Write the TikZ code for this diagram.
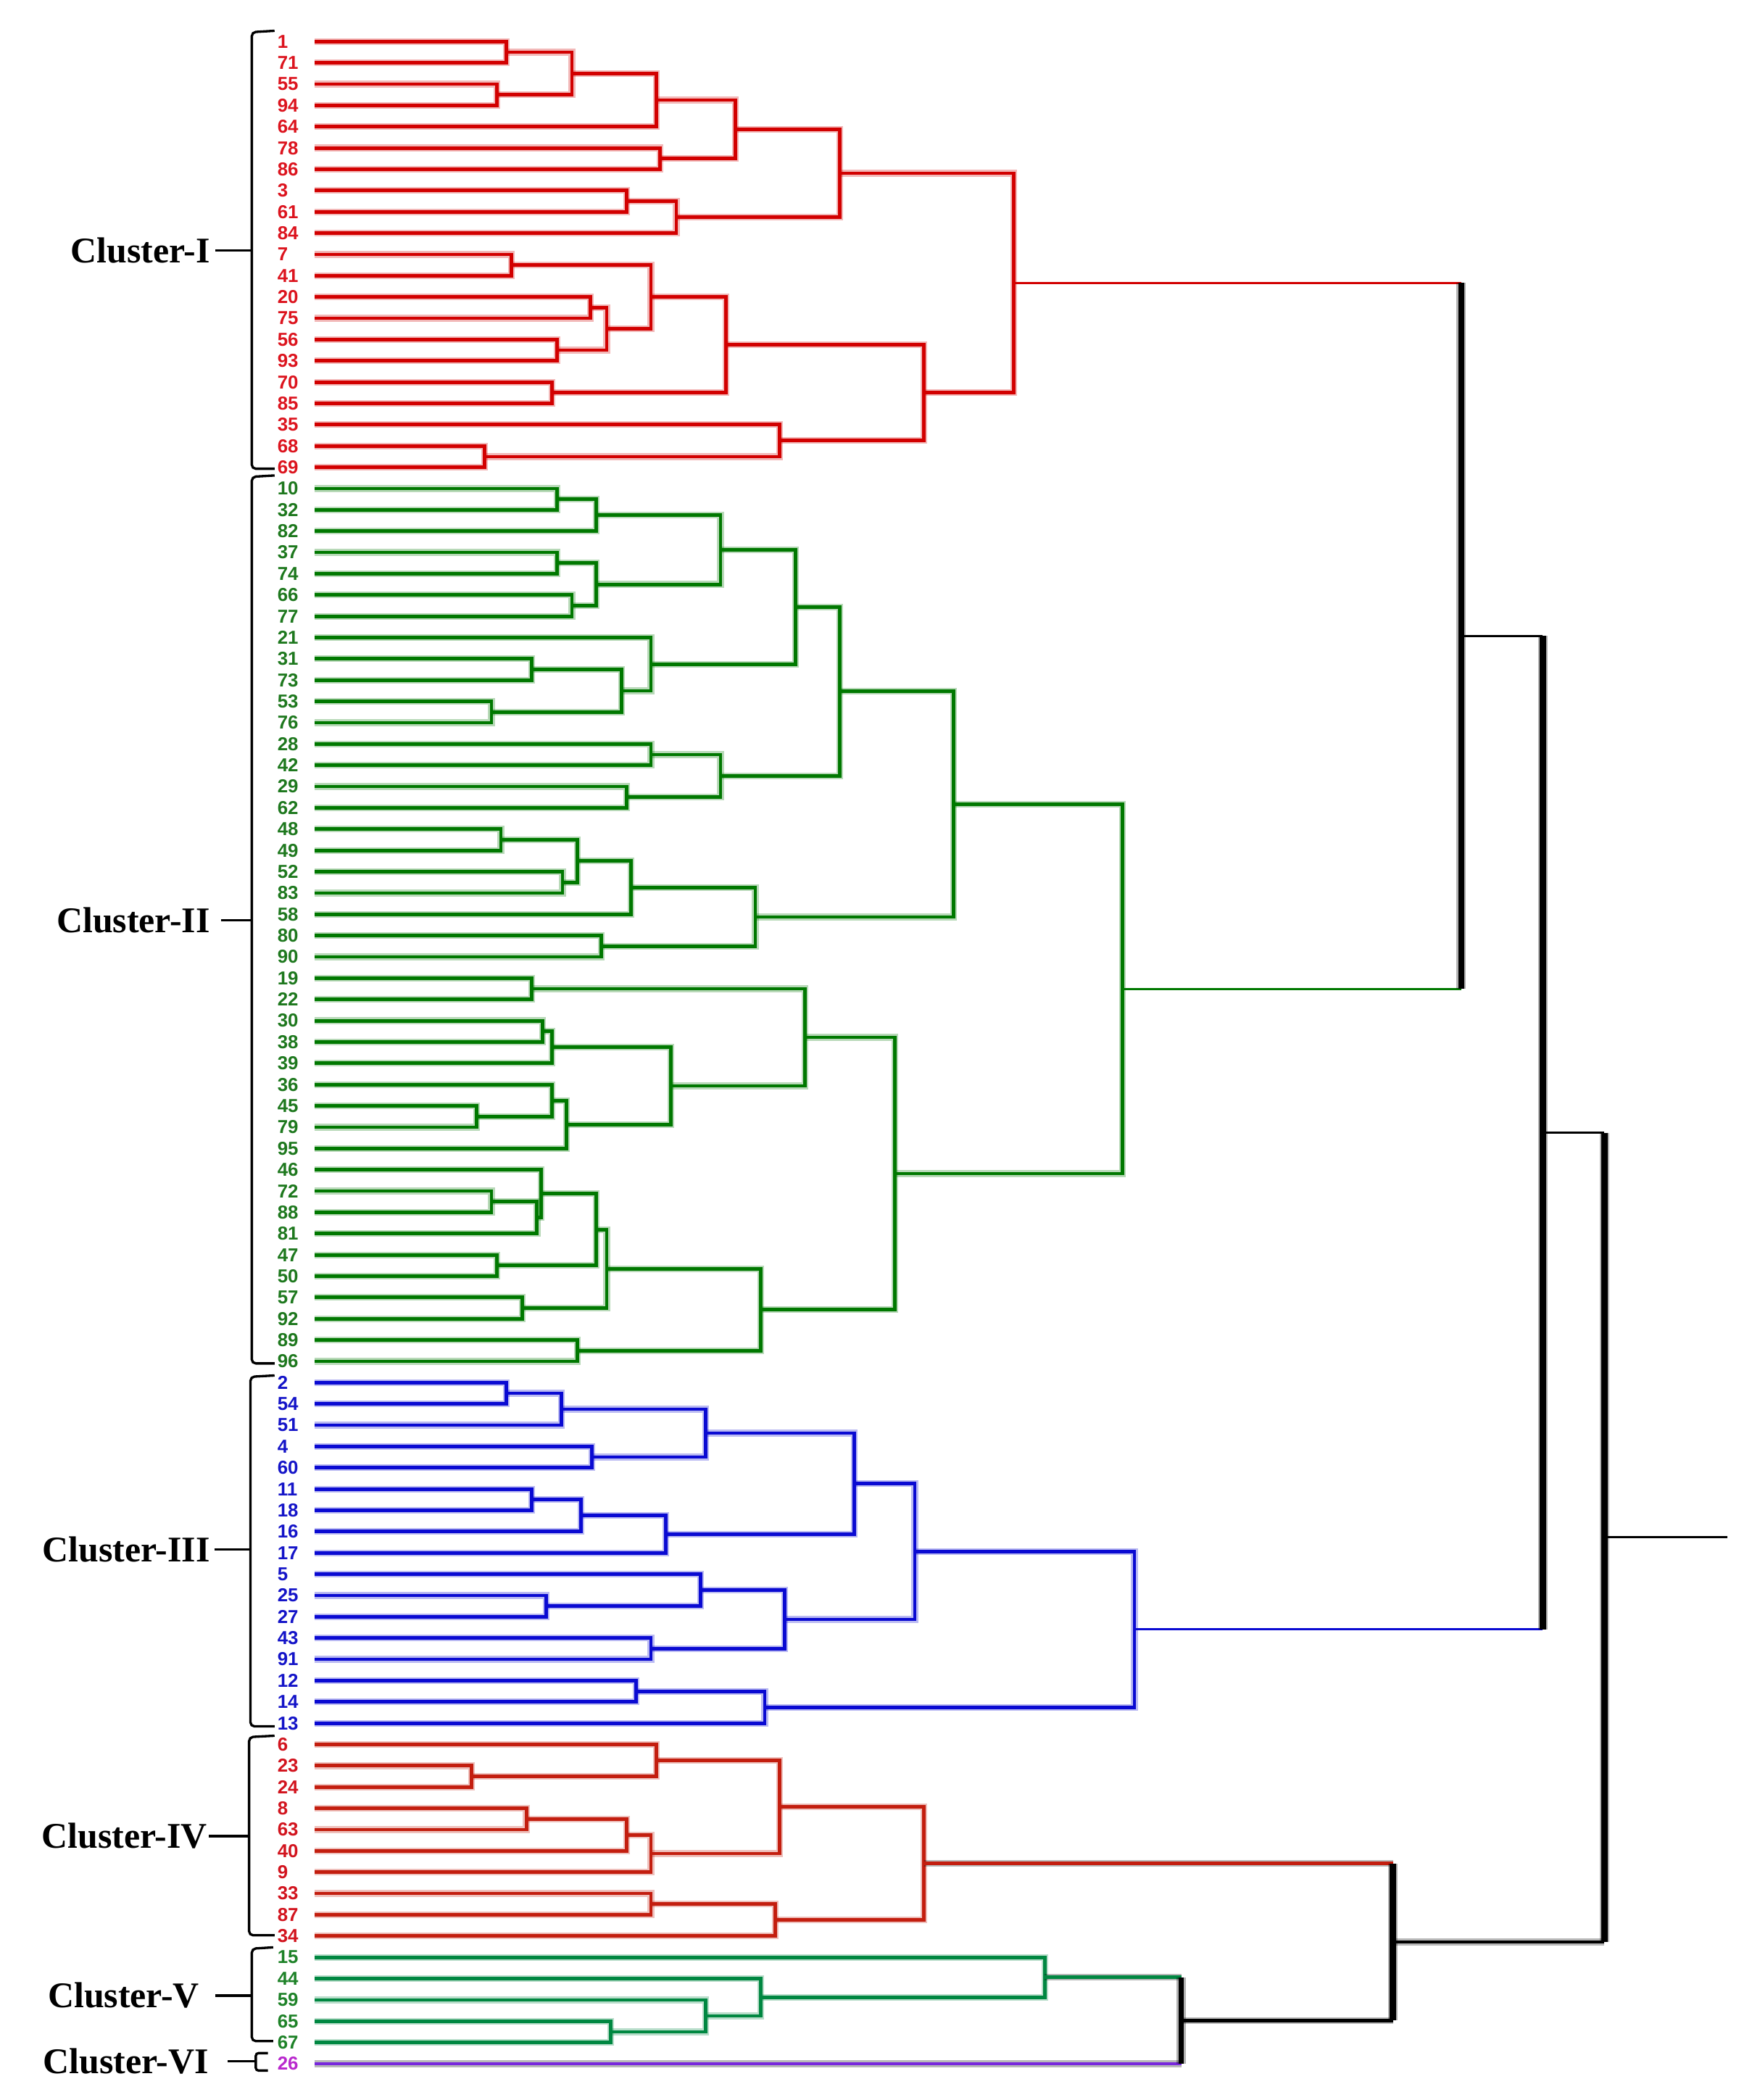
\documentclass[tikz,border=0pt]{standalone}
\usepackage{fontspec}
\setmainfont{Liberation Serif}
\newfontfamily\leaffont{Liberation Sans}
\usetikzlibrary{calc}
\definecolor{cIl}{RGB}{210,0,0}
\definecolor{cIt}{RGB}{220,20,30}
\definecolor{cIIl}{RGB}{0,120,0}
\definecolor{cIIt}{RGB}{30,120,30}
\definecolor{cIIIl}{RGB}{10,10,210}
\definecolor{cIIIt}{RGB}{20,20,200}
\definecolor{cIVl}{RGB}{195,30,15}
\definecolor{cIVt}{RGB}{210,20,30}
\definecolor{cVl}{RGB}{0,135,65}
\definecolor{cVt}{RGB}{30,130,40}
\definecolor{cVIl}{RGB}{120,40,220}
\definecolor{cVIt}{RGB}{185,40,205}
\tikzset{
  tree/.style={line width=2.6pt, preaction={draw, line width=5pt, opacity=0.28}},
  conn/.style={line width=1.7pt},
  blackv/.style={black, preaction={draw, line width=7pt, opacity=0.3}},
  brk/.style={line width=1.8pt, black, rounded corners=3pt},
  leaflab/.style={anchor=west, inner sep=0pt, font=\leaffont\bfseries\fontsize{14}{14}\selectfont},
  clab/.style={anchor=east, inner sep=0pt, font=\bfseries\fontsize{27}{27}\selectfont},
}
\newcommand\leafset[3]{%
  \foreach \lab [count=\k from #1] in {#3} {%
    \coordinate (L\lab) at (235,{31+15.894*\k});
    \node[leaflab,text=#2] (T\lab) at (207,{31+15.894*\k}) {\lab};
  }}
\newcommand\mrg[4]{%
  \path let \p1=(#3), \p2=(#4) in coordinate (#1) at (#2pt,{0.5*(\y1+\y2)});
  \draw[tree] (#3) -| (#1) |- (#4);}
\newcommand\topm[7]{%
  \path let \p1=(#3), \p2=(#5) in coordinate (#1) at (#2pt,{0.5*(\y1+\y2)});
  \draw[#4] (#3) -- (#3 -| #1);
  \draw[#6] (#5) -- (#5 -| #1);
  \draw[blackv,line width=#7] (#3 -| #1) -- (#5 -| #1);}
\begin{document}
\begin{tikzpicture}[x=1pt,y=-1pt]
\fill[white] (0,0) rectangle (1314,1568);
\useasboundingbox (0,0) rectangle (1314,1568);

% leaves
\leafset{0}{cIt}{1,71,55,94,64,78,86,3,61,84,7,41,20,75,56,93,70,85,35,68,69}
\leafset{21}{cIIt}{10,32,82,37,74,66,77,21,31,73,53,76,28,42,29,62,48,49,52,83,58,80,90,19,22,30,38,39,36,45,79,95,46,72,88,81,47,50,57,92,89,96}
\leafset{63}{cIIIt}{2,54,51,4,60,11,18,16,17,5,25,27,43,91,12,14,13}
\leafset{80}{cIVt}{6,23,24,8,63,40,9,33,87,34}
\leafset{90}{cVt}{15,44,59,65,67}
\leafset{95}{cVIt}{26}

% Cluster I
\begin{scope}[color=cIl]
\mrg{a1}{378}{L1}{L71}
\mrg{a2}{371}{L55}{L94}
\mrg{a3}{427}{a1}{a2}
\mrg{a4}{490}{a3}{L64}
\mrg{a5}{493}{L78}{L86}
\mrg{a6}{549}{a4}{a5}
\mrg{a7}{468}{L3}{L61}
\mrg{a8}{505}{a7}{L84}
\mrg{a9}{627}{a6}{a8}
\mrg{a10}{382}{L7}{L41}
\mrg{a11}{441}{L20}{L75}
\mrg{a12}{416}{L56}{L93}
\mrg{a13}{453}{a11}{a12}
\mrg{a14}{486}{a10}{a13}
\mrg{a15}{412}{L70}{L85}
\mrg{a16}{542}{a14}{a15}
\mrg{a17}{362}{L68}{L69}
\mrg{a18}{582}{L35}{a17}
\mrg{a19}{690}{a16}{a18}
\mrg{CI}{757}{a9}{a19}
\end{scope}

% Cluster II
\begin{scope}[color=cIIl]
\mrg{b1}{416}{L10}{L32}
\mrg{b2}{445}{b1}{L82}
\mrg{b3}{416}{L37}{L74}
\mrg{b4}{427}{L66}{L77}
\mrg{b5}{445}{b3}{b4}
\mrg{b6}{538}{b2}{b5}
\mrg{b7}{397}{L31}{L73}
\mrg{b8}{367}{L53}{L76}
\mrg{b9}{464}{b7}{b8}
\mrg{b10}{486}{L21}{b9}
\mrg{b11}{594}{b6}{b10}
\mrg{b12}{486}{L28}{L42}
\mrg{b13}{468}{L29}{L62}
\mrg{b14}{538}{b12}{b13}
\mrg{b15}{627}{b11}{b14}
\mrg{b16}{374}{L48}{L49}
\mrg{b17}{420}{L52}{L83}
\mrg{b18}{431}{b16}{b17}
\mrg{b19}{471}{b18}{L58}
\mrg{b20}{449}{L80}{L90}
\mrg{b21}{564}{b19}{b20}
\mrg{b22}{712}{b15}{b21}
\mrg{b23}{397}{L19}{L22}
\mrg{b24}{405}{L30}{L38}
\mrg{b25}{412}{b24}{L39}
\mrg{b26}{356}{L45}{L79}
\mrg{b27}{412}{L36}{b26}
\mrg{b28}{423}{b27}{L95}
\mrg{b29}{501}{b25}{b28}
\mrg{b30}{601}{b23}{b29}
\mrg{b31}{367}{L72}{L88}
\mrg{b32}{401}{b31}{L81}
\mrg{b33}{404}{L46}{b32}
\mrg{b34}{371}{L47}{L50}
\mrg{b35}{445}{b33}{b34}
\mrg{b36}{390}{L57}{L92}
\mrg{b37}{453}{b35}{b36}
\mrg{b38}{431}{L89}{L96}
\mrg{b39}{568}{b37}{b38}
\mrg{b40}{668}{b30}{b39}
\mrg{CII}{838}{b22}{b40}
\end{scope}

% Cluster III
\begin{scope}[color=cIIIl]
\mrg{c1}{378}{L2}{L54}
\mrg{c2}{419}{c1}{L51}
\mrg{c3}{442}{L4}{L60}
\mrg{c4}{527}{c2}{c3}
\mrg{c5}{397}{L11}{L18}
\mrg{c6}{434}{c5}{L16}
\mrg{c7}{497}{c6}{L17}
\mrg{c8}{638}{c4}{c7}
\mrg{c9}{408}{L25}{L27}
\mrg{c10}{523}{L5}{c9}
\mrg{c11}{486}{L43}{L91}
\mrg{c12}{586}{c10}{c11}
\mrg{c13}{683}{c8}{c12}
\mrg{c14}{475}{L12}{L14}
\mrg{c15}{571}{c14}{L13}
\mrg{CIII}{847}{c13}{c15}
\end{scope}

% Cluster IV
\begin{scope}[color=cIVl]
\mrg{d1}{352}{L23}{L24}
\mrg{d2}{490}{L6}{d1}
\mrg{d3}{393}{L8}{L63}
\mrg{d4}{468}{d3}{L40}
\mrg{d5}{486}{d4}{L9}
\mrg{d6}{582}{d2}{d5}
\mrg{d7}{486}{L33}{L87}
\mrg{d8}{579}{d7}{L34}
\mrg{CIV}{690}{d6}{d8}
\end{scope}

% Cluster V
\begin{scope}[color=cVl]
\mrg{e1}{456}{L65}{L67}
\mrg{e2}{527}{L59}{e1}
\mrg{e3}{568}{L44}{e2}
\mrg{CV}{780}{L15}{e3}
\end{scope}

% upper merges
\topm{A1}{1091}{CI}{conn,cIl}{CII}{conn,cIIl}{4.5pt}
\topm{A2}{1152}{A1}{conn,black}{CIII}{conn,cIIIl}{4.5pt}
\topm{B2}{882}{CV}{tree,cVl}{L26}{tree,cVIl}{3.5pt}
\topm{B1}{1040}{CIV}{tree,cIVl}{B2}{tree,black}{4.5pt}
\topm{A3}{1198}{A2}{conn,black}{B1}{tree,black}{4.5pt}
\coordinate (R) at ($(A3)+(92,0)$);
\draw[conn,black] (A3) -- (R);

% cluster brackets and labels
\node[clab] (K1) at (157,187) {Cluster-I};
\draw[brk] (205,23) -- (188,24) -- (188,350) -- (205,350);
\draw[brk,rounded corners=0pt] ([xshift=4pt]K1.east) -- (188,187);

\node[clab] (K2) at (157,687) {Cluster-II};
\draw[brk] (205,355) -- (188,356) -- (188,1018) -- (205,1018);
\draw[brk,rounded corners=0pt] ([xshift=8pt]K2.east) -- (188,687);

\node[clab] (K3) at (157,1157) {Cluster-III};
\draw[brk] (205,1027) -- (187,1028) -- (187,1289) -- (205,1289);
\draw[brk,rounded corners=0pt] ([xshift=3pt]K3.east) -- (187,1157);

\node[clab] (K4) at (155,1371) {Cluster-IV};
\draw[brk] (205,1296) -- (186,1297) -- (186,1445) -- (205,1445);
\draw[brk,rounded corners=0pt] ([xshift=1pt]K4.east) -- (186,1371);

\node[clab] (K5) at (149,1490) {Cluster-V};
\draw[brk] (204,1454) -- (188,1455) -- (188,1524) -- (204,1524);
\draw[brk,rounded corners=0pt] ([xshift=12pt]K5.east) -- (188,1490);

\node[clab] (K6) at (156,1539) {Cluster-VI};
\draw[brk,rounded corners=2pt] (200,1533) -- (191,1533) -- (191,1546) -- (200,1546);
\draw[brk,rounded corners=0pt] ([xshift=14pt]K6.east) -- (191,1539);
\end{tikzpicture}
\end{document}
